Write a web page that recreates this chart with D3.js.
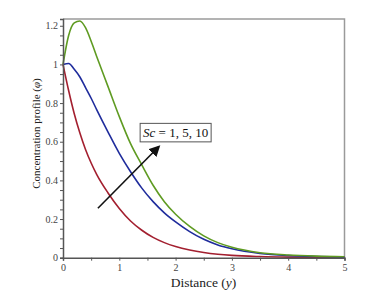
<!DOCTYPE html>
<html>
<head>
<meta charset="utf-8">
<script src="https://cdn.jsdelivr.net/npm/d3@7"></script>
<style>
  body { margin: 0; background: #fff; }
  svg { font-family: "Liberation Serif", "DejaVu Serif", serif; }
</style>
</head>
<body>
<div class="chart"></div>
<script>
// distance samples
var xs = [0, 0.1, 0.2, 0.3, 0.4, 0.5, 0.6, 0.8, 1, 1.2, 1.4, 1.6, 1.8, 2, 2.25, 2.5, 2.75, 3, 3.5, 4, 4.5, 5];
// concentration for Sc = 1, 5, 10
var sc1 = [1, 0.865, 0.745, 0.645, 0.56, 0.49, 0.43, 0.335, 0.255, 0.19, 0.142, 0.105, 0.078, 0.058, 0.04, 0.027, 0.018, 0.012, 0.006, 0.003, 0.0015, 0.001];
var sc5 = [1, 1.005, 0.975, 0.935, 0.88, 0.825, 0.765, 0.65, 0.54, 0.445, 0.36, 0.29, 0.232, 0.185, 0.135, 0.095, 0.066, 0.046, 0.022, 0.011, 0.006, 0.003];
var sc10 = [1, 1.15, 1.215, 1.225, 1.19, 1.12, 1.04, 0.885, 0.73, 0.59, 0.48, 0.375, 0.29, 0.225, 0.162, 0.113, 0.078, 0.054, 0.026, 0.014, 0.008, 0.005];
var seriesColors = ["#a31f2f", "#1f2c9c", "#5f9b22"];
var xTicks = [0, 1, 2, 3, 4, 5];
var yTicks = [0, 0.2, 0.4, 0.6, 0.8, 1, 1.2];

var width = 378, height = 295;
var pLeft = 63, pRight = 344.5, pTop = 19, pBottom = 257.7;

var svg = d3.select(".chart").append("svg")
  .attr("width", width)
  .attr("height", height);

var x = d3.scaleLinear().domain([0, 5]).range([pLeft, pRight]);
var y = d3.scaleLinear().domain([0, 1.235]).range([pBottom, pTop]);

// frame (top / right in grey)
svg.append("path")
  .attr("d", "M" + pLeft + "," + pTop + "H" + pRight + "V" + pBottom)
  .attr("fill", "none")
  .attr("stroke", "#9a9a9a")
  .attr("stroke-width", 1.5);

var line = d3.line()
  .x(function(d) { return x(d[0]); })
  .y(function(d) { return y(d[1]); })
  .curve(d3.curveMonotoneX);

[sc1, sc5, sc10].forEach(function(vals, i) {
  svg.append("path")
    .datum(xs.map(function(v, j) { return [v, vals[j]]; }))
    .attr("d", line)
    .attr("fill", "none")
    .attr("stroke", seriesColors[i])
    .attr("stroke-width", 1.6);
});

// axes
var xAxis = svg.append("g")
  .attr("transform", "translate(0," + pBottom + ")")
  .call(d3.axisBottom(x).tickValues(d3.range(0, 5.01, 0.5)).tickSize(3).tickFormat(function(d) {
    return xTicks.indexOf(d) >= 0 ? d : "";
  }));
var yAxis = svg.append("g")
  .attr("transform", "translate(" + pLeft + ",0)")
  .call(d3.axisLeft(y).tickValues(d3.range(0, 1.201, 0.05)).tickSize(3).tickFormat(function(d) {
    var r = Math.round(d * 100) / 100;
    return yTicks.indexOf(r) >= 0 ? d3.format("~g")(r) : "";
  }));

[xAxis, yAxis].forEach(function(g) {
  g.select(".domain").attr("stroke", "#555").attr("stroke-width", 1.5);
  g.selectAll(".tick line").attr("stroke", "#555");
  g.selectAll(".tick text")
    .attr("fill", "#444")
    .style("font-family", "Liberation Serif, serif")
    .style("font-size", "10px");
});
xAxis.selectAll(".tick text").attr("y", 6);
yAxis.selectAll(".tick text").attr("x", -5);

// axis titles
var xt = svg.append("text")
  .attr("x", 203.5).attr("y", 287)
  .attr("text-anchor", "middle")
  .style("font-size", "13.5px")
  .attr("fill", "#222");
xt.append("tspan").text("Distance (");
xt.append("tspan").style("font-style", "italic").text("y");
xt.append("tspan").text(")");

var yt = svg.append("text")
  .attr("transform", "translate(40,133.5) rotate(-90)")
  .attr("text-anchor", "middle")
  .style("font-size", "11px")
  .attr("fill", "#222");
yt.append("tspan").text("Concentration profile (");
yt.append("tspan").style("font-style", "italic").text("\u03c6");
yt.append("tspan").text(")");

// arrow annotation
svg.append("defs").append("marker")
  .attr("id", "head")
  .attr("viewBox", "0 0 10 10")
  .attr("refX", 8).attr("refY", 5)
  .attr("markerWidth", 7).attr("markerHeight", 7)
  .attr("orient", "auto")
  .append("path")
  .attr("d", "M0,0L10,5L0,10z")
  .attr("fill", "#111");

svg.append("line")
  .attr("x1", x(0.62)).attr("y1", y(0.256))
  .attr("x2", x(1.70)).attr("y2", y(0.574))
  .attr("stroke", "#111")
  .attr("stroke-width", 1.6)
  .attr("marker-end", "url(#head)");

svg.append("rect")
  .attr("x", x(1.37)).attr("y", y(0.695))
  .attr("width", 71).attr("height", 18.5)
  .attr("fill", "#fff")
  .attr("stroke", "#555")
  .attr("stroke-width", 1);

var lab = svg.append("text")
  .attr("x", x(1.37) + 35.5).attr("y", y(0.695) + 13.5)
  .attr("text-anchor", "middle")
  .style("font-size", "13px")
  .attr("fill", "#111");
lab.append("tspan").style("font-style", "italic").text("Sc");
lab.append("tspan").text(" = 1, 5, 10");
</script>
</body>
</html>
